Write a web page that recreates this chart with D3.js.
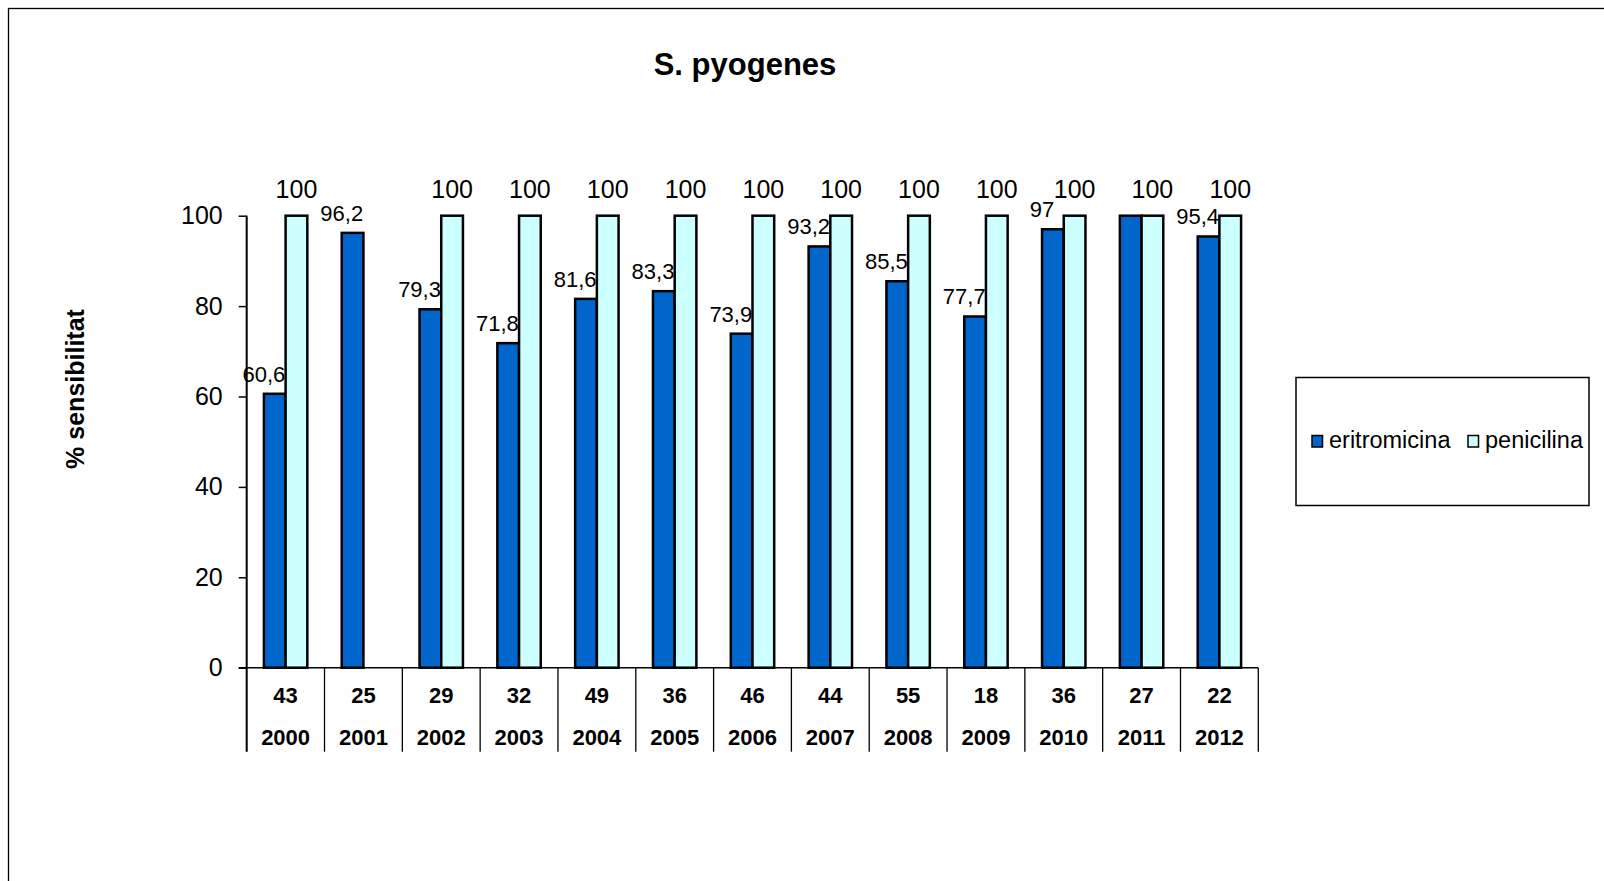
<!DOCTYPE html>
<html>
<head>
<meta charset="utf-8">
<script src="https://cdn.jsdelivr.net/npm/d3@7"></script>
<style>
  body { margin: 0; background: #fff; }
  svg { display: block; font-family: "Liberation Sans", Arial, sans-serif; }
</style>
</head>
<body>
<script>
// Chart data
const years = ["2000", "2001", "2002", "2003", "2004", "2005", "2006", "2007", "2008", "2009", "2010", "2011", "2012"];
const nValues = [43, 25, 29, 32, 49, 36, 46, 44, 55, 18, 36, 27, 22];
const eritromicina = [60.6, 96.2, 79.3, 71.8, 81.6, 83.3, 73.9, 93.2, 85.5, 77.7, 97, 100, 95.4];
const penicilina = [100, null, 100, 100, 100, 100, 100, 100, 100, 100, 100, 100, 100];
const eritroLabels = ["60,6", "96,2", "79,3", "71,8", "81,6", "83,3", "73,9", "93,2", "85,5", "77,7", "97", "", "95,4"];
const yTicks = [0, 20, 40, 60, 80, 100];
const seriesNames = ["eritromicina", "penicilina"];
const seriesColors = ["#0066CC", "#CCFFFF"];

const width = 1604;
const height = 881;
const plot = { left: 246.7, right: 1258.3, top: 215.7, bottom: 667.7 };

const svg = d3.select("body")
  .append("svg")
  .attr("width", width)
  .attr("height", height);

// Outer frame (runs off the right and bottom edge)
svg.append("rect")
  .attr("x", 8.5)
  .attr("y", 8.5)
  .attr("width", 1640)
  .attr("height", 920)
  .attr("fill", "none")
  .attr("stroke", "#000")
  .attr("stroke-width", 1.3);

// Title
svg.append("text")
  .attr("x", 745)
  .attr("y", 75)
  .attr("text-anchor", "middle")
  .style("font-size", "31px")
  .style("font-weight", "bold")
  .text("S. pyogenes");

// Scales
const x0 = d3.scaleBand()
  .domain(years)
  .range([plot.left, plot.right])
  .paddingInner(0);

const x1 = d3.scaleBand()
  .domain(seriesNames)
  .range([0, x0.bandwidth()])
  .paddingInner(0)
  .paddingOuter(0.793);

const y = d3.scaleLinear()
  .domain([0, 100])
  .range([plot.bottom, plot.top]);

// Y axis
const yAxis = d3.axisLeft(y)
  .tickValues(yTicks)
  .tickSize(8)
  .tickPadding(16);

const yG = svg.append("g")
  .attr("transform", `translate(${plot.left}, 0)`)
  .call(yAxis);
yG.select(".domain").remove();
yG.selectAll(".tick line").attr("stroke", "#000").attr("stroke-width", 1.5);
yG.selectAll(".tick text")
  .style("font-size", "25px")
  .style("font-family", "'Liberation Sans', Arial, sans-serif")
  .attr("fill", "#000");

svg.append("line")
  .attr("x1", plot.left).attr("x2", plot.left)
  .attr("y1", y(100)).attr("y2", plot.bottom + 84)
  .attr("stroke", "#000").attr("stroke-width", 2);

// Y axis title
svg.append("text")
  .attr("transform", `translate(84, 389) rotate(-90)`)
  .attr("text-anchor", "middle")
  .style("font-size", "25px")
  .style("font-weight", "bold")
  .text("% sensibilitat");

// Category table under the plot
svg.append("line")
  .attr("x1", plot.left - 8).attr("x2", plot.right)
  .attr("y1", plot.bottom).attr("y2", plot.bottom)
  .attr("stroke", "#000").attr("stroke-width", 1.5);

svg.selectAll(".sep")
  .data(years)
  .enter()
  .append("line")
  .attr("class", "sep")
  .attr("x1", d => x0(d) + x0.bandwidth())
  .attr("x2", d => x0(d) + x0.bandwidth())
  .attr("y1", plot.bottom)
  .attr("y2", plot.bottom + 84)
  .attr("stroke", "#000")
  .attr("stroke-width", 1.3);

svg.selectAll(".nlabel")
  .data(years)
  .enter()
  .append("text")
  .attr("class", "nlabel")
  .attr("x", d => x0(d) + x0.bandwidth() / 2)
  .attr("y", plot.bottom + 35.6)
  .attr("text-anchor", "middle")
  .style("font-size", "22px")
  .style("font-weight", "bold")
  .text((d, i) => nValues[i]);

svg.selectAll(".ylabel")
  .data(years)
  .enter()
  .append("text")
  .attr("class", "ylabel")
  .attr("x", d => x0(d) + x0.bandwidth() / 2)
  .attr("y", plot.bottom + 77.3)
  .attr("text-anchor", "middle")
  .style("font-size", "22px")
  .style("font-weight", "bold")
  .text(d => d);

// Bars
const rows = years.map((yr, i) => ({
  year: yr,
  values: [
    { key: "eritromicina", value: eritromicina[i], label: eritroLabels[i] },
    { key: "penicilina", value: penicilina[i], label: penicilina[i] == null ? "" : String(penicilina[i]) }
  ]
}));

const groups = svg.selectAll(".group")
  .data(rows)
  .enter()
  .append("g")
  .attr("class", "group")
  .attr("transform", d => `translate(${x0(d.year)}, 0)`);

groups.selectAll("rect")
  .data(d => d.values.filter(v => v.value != null))
  .enter()
  .append("rect")
  .attr("x", d => x1(d.key))
  .attr("y", d => y(d.value))
  .attr("width", x1.bandwidth())
  .attr("height", d => y(0) - y(d.value))
  .attr("fill", d => seriesColors[seriesNames.indexOf(d.key)])
  .attr("stroke", "#000")
  .attr("stroke-width", 2.5);

// Value labels: eritromicina sits at the bar's left edge, penicilina centred above
groups.selectAll(".vlabel")
  .data(d => d.values.filter(v => v.value != null && v.label !== ""))
  .enter()
  .append("text")
  .attr("class", "vlabel")
  .attr("x", d => d.key === "eritromicina" ? x1(d.key) : x1(d.key) + x1.bandwidth() / 2)
  .attr("y", d => d.key === "eritromicina" ? y(d.value) - 12 : y(d.value) - 18)
  .attr("text-anchor", "middle")
  .style("font-size", d => d.key === "eritromicina" ? "22px" : "25px")
  .attr("fill", "#000")
  .text(d => d.label);

// Legend
const legend = svg.append("g");
legend.append("rect")
  .attr("x", 1296)
  .attr("y", 377.5)
  .attr("width", 293)
  .attr("height", 128)
  .attr("fill", "#fff")
  .attr("stroke", "#000")
  .attr("stroke-width", 1.5);

const legendX = [1312, 1468];
seriesNames.forEach((name, i) => {
  legend.append("rect")
    .attr("x", legendX[i])
    .attr("y", 435.5)
    .attr("width", 10.5)
    .attr("height", 11.5)
    .attr("fill", seriesColors[i])
    .attr("stroke", "#000")
    .attr("stroke-width", 1.5);
  legend.append("text")
    .attr("x", legendX[i] + 17)
    .attr("y", 447.5)
    .style("font-size", "23.5px")
    .text(name);
});
</script>
</body>
</html>
